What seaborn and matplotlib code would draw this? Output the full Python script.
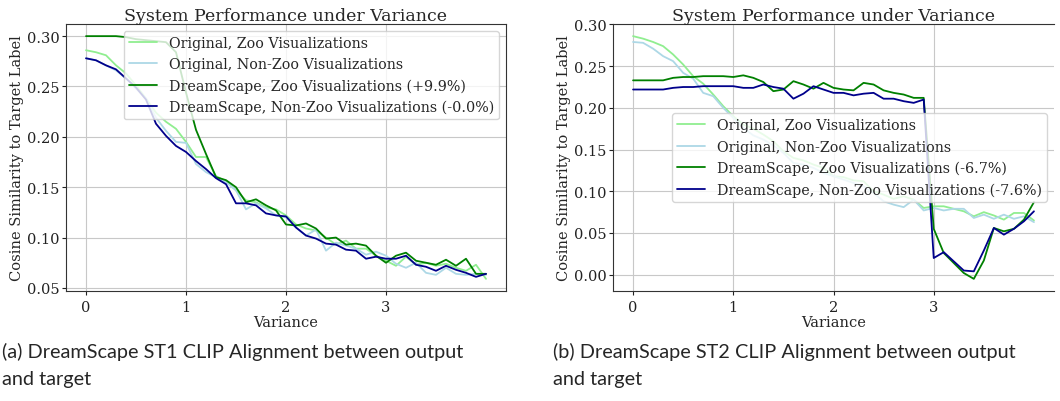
import numpy as np
import pandas as pd
import seaborn as sb
import matplotlib.pyplot as plt

# variance levels (shared x axis)
variance = [0.0, 0.1, 0.2, 0.3, 0.4, 0.5, 0.6, 0.7, 0.8, 0.9,
            1.0, 1.1, 1.2, 1.3, 1.4, 1.5, 1.6, 1.7, 1.8, 1.9,
            2.0, 2.1, 2.2, 2.3, 2.4, 2.5, 2.6, 2.7, 2.8, 2.9,
            3.0, 3.1, 3.2, 3.3, 3.4, 3.5, 3.6, 3.7, 3.8, 3.9, 4.0]

# ST1 panel
st1_orig_zoo = [0.286, 0.284, 0.281, 0.271, 0.263, 0.251, 0.238, 0.224, 0.215, 0.208,
                0.195, 0.180, 0.180, 0.161, 0.156, 0.147, 0.137, 0.135, 0.130, 0.128,
                0.122, 0.113, 0.109, 0.107, 0.100, 0.093, 0.097, 0.089, 0.089, 0.082,
                0.077, 0.072, 0.081, 0.073, 0.075, 0.072, 0.074, 0.070, 0.067, 0.073, 0.059]
st1_orig_nonzoo = [0.278, 0.276, 0.271, 0.266, 0.258, 0.248, 0.238, 0.219, 0.206, 0.195,
                   0.194, 0.173, 0.165, 0.160, 0.155, 0.147, 0.128, 0.134, 0.129, 0.122,
                   0.120, 0.110, 0.102, 0.108, 0.087, 0.095, 0.092, 0.089, 0.083, 0.086,
                   0.082, 0.074, 0.070, 0.075, 0.065, 0.063, 0.070, 0.064, 0.063, 0.064, 0.063]
st1_ds_zoo = [0.300, 0.300, 0.300, 0.300, 0.299, 0.297, 0.296, 0.295, 0.294, 0.284,
              0.244, 0.207, 0.183, 0.160, 0.157, 0.150, 0.135, 0.138, 0.132, 0.127,
              0.113, 0.112, 0.114, 0.109, 0.099, 0.100, 0.093, 0.094, 0.092, 0.082,
              0.075, 0.082, 0.085, 0.077, 0.075, 0.073, 0.078, 0.072, 0.079, 0.064, 0.064]
st1_ds_nonzoo = [0.278, 0.276, 0.271, 0.267, 0.258, 0.249, 0.237, 0.213, 0.201, 0.191,
                 0.185, 0.176, 0.168, 0.159, 0.153, 0.134, 0.134, 0.132, 0.124, 0.122,
                 0.121, 0.110, 0.102, 0.099, 0.094, 0.093, 0.088, 0.087, 0.079, 0.081,
                 0.079, 0.079, 0.082, 0.073, 0.071, 0.067, 0.072, 0.068, 0.065, 0.061, 0.064]

# ST2 panel
st2_orig_zoo = [0.286, 0.283, 0.279, 0.274, 0.264, 0.252, 0.238, 0.229, 0.216, 0.202,
                0.190, 0.180, 0.175, 0.168, 0.160, 0.148, 0.140, 0.137, 0.132, 0.128,
                0.118, 0.117, 0.113, 0.112, 0.100, 0.096, 0.091, 0.094, 0.090, 0.080,
                0.082, 0.082, 0.079, 0.076, 0.070, 0.075, 0.071, 0.066, 0.074, 0.074, 0.065]
st2_orig_nonzoo = [0.279, 0.278, 0.271, 0.262, 0.256, 0.242, 0.235, 0.218, 0.214, 0.200,
                   0.188, 0.176, 0.167, 0.162, 0.155, 0.146, 0.134, 0.132, 0.128, 0.122,
                   0.118, 0.114, 0.110, 0.106, 0.098, 0.088, 0.084, 0.081, 0.090, 0.077,
                   0.080, 0.077, 0.079, 0.079, 0.068, 0.072, 0.067, 0.072, 0.067, 0.070, 0.063]
st2_ds_zoo = [0.233, 0.233, 0.233, 0.233, 0.236, 0.237, 0.237, 0.238, 0.238, 0.238,
              0.237, 0.239, 0.236, 0.231, 0.220, 0.222, 0.232, 0.228, 0.223, 0.230,
              0.224, 0.222, 0.221, 0.230, 0.228, 0.221, 0.218, 0.216, 0.212, 0.212,
              0.055, 0.026, 0.014, 0.002, -0.005, 0.017, 0.056, 0.052, 0.055, 0.066, 0.087]
st2_ds_nonzoo = [0.222, 0.222, 0.222, 0.222, 0.224, 0.225, 0.225, 0.226, 0.226, 0.226,
                 0.226, 0.224, 0.224, 0.228, 0.225, 0.223, 0.211, 0.217, 0.226, 0.222,
                 0.218, 0.218, 0.215, 0.217, 0.218, 0.211, 0.211, 0.208, 0.206, 0.210,
                 0.020, 0.027, 0.016, 0.005, 0.004, 0.029, 0.056, 0.048, 0.055, 0.064, 0.076]

st1_labels = ['Original, Zoo Visualizations', 'Original, Non-Zoo Visualizations',
              'DreamScape, Zoo Visualizations (+9.9%)', 'DreamScape, Non-Zoo Visualizations (-0.0%)']
st2_labels = ['Original, Zoo Visualizations', 'Original, Non-Zoo Visualizations',
              'DreamScape, Zoo Visualizations (-6.7%)', 'DreamScape, Non-Zoo Visualizations (-7.6%)']
line_colors = ['lightgreen', 'lightblue', 'green', 'darkblue']

captions = ['(a) DreamScape ST1 CLIP Alignment between output\nand target',
            '(b) DreamScape ST2 CLIP Alignment between output\nand target']

sb.set_style("ticks")
plt.rcParams['font.family'] = ['DejaVu Serif']
plt.rcParams['axes.edgecolor'] = '#333333'

fig = plt.figure(figsize=(10.6, 4.02), dpi=100)
ax1 = fig.add_axes([66 / 1060, 1 - 292 / 402, 440 / 1060, 267 / 402])
ax2 = fig.add_axes([613 / 1060, 1 - 292 / 402, 441 / 1060, 267 / 402])


def draw_panel(ax, series, labels, legend_loc):
    for vals, lab, col in zip(series, labels, line_colors):
        sb.lineplot(x=variance, y=vals, ax=ax, color=col, label=lab, linewidth=1.3)
    ax.grid(True, color='#c8c8c8', linewidth=0.8)
    ax.set_axisbelow(True)
    ax.set_xticks([0, 1, 2, 3])
    ax.tick_params(labelsize=10.5, length=3, width=0.8, pad=1.5, colors='#222222')
    ax.tick_params(axis='x', pad=3.5)
    ax.set_title('System Performance under Variance', fontsize=12.5, pad=3)
    ax.set_xlabel('Variance', fontsize=10.5, labelpad=0.5)
    ax.set_ylabel('Cosine Similarity to Target Label', fontsize=10.5, labelpad=2)
    ax.legend(loc=legend_loc, fontsize=10.3, framealpha=0.8, handlelength=2.0,
              labelspacing=0.5, borderpad=0.35)


draw_panel(ax1, [st1_orig_zoo, st1_orig_nonzoo, st1_ds_zoo, st1_ds_nonzoo], st1_labels, 'upper right')
draw_panel(ax2, [st2_orig_zoo, st2_orig_nonzoo, st2_ds_zoo, st2_ds_nonzoo], st2_labels, 'center right')
ax1.set_yticks([0.05, 0.10, 0.15, 0.20, 0.25, 0.30])
ax2.set_yticks([0.00, 0.05, 0.10, 0.15, 0.20, 0.25, 0.30])
ax2.spines['right'].set_visible(False)

fig.text(2 / 1060, 1 - 343 / 402, captions[0], family='Lato', fontsize=14.3,
         va='top', ha='left', linespacing=1.7)
fig.text(553 / 1060, 1 - 343 / 402, captions[1], family='Lato', fontsize=14.3,
         va='top', ha='left', linespacing=1.7)

plt.savefig('out.png', dpi=100)
